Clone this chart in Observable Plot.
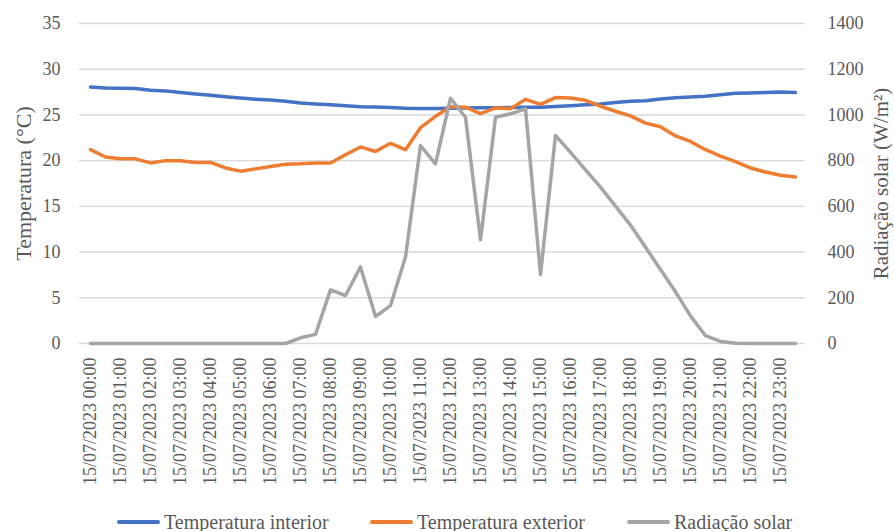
<!DOCTYPE html>
<html><head><meta charset="utf-8">
<script src="https://cdn.jsdelivr.net/npm/d3@7"></script>
<script src="https://cdn.jsdelivr.net/npm/@observablehq/plot@0.6"></script>
<style>
body{margin:0;background:#fff;width:894px;height:531px;position:relative;overflow:hidden;}
.leg{position:absolute;top:508px;height:28px;display:flex;align-items:center;font-family:'Liberation Serif',serif;font-size:20px;color:#595959;white-space:nowrap;}
.sw{display:inline-block;width:43px;height:4px;border-radius:2px;margin-right:4px;}
</style></head><body>
<div id="chart"></div>
<script>
const times = [
"15/07/2023 00:00","15/07/2023 00:30","15/07/2023 01:00","15/07/2023 01:30",
"15/07/2023 02:00","15/07/2023 02:30","15/07/2023 03:00","15/07/2023 03:30",
"15/07/2023 04:00","15/07/2023 04:30","15/07/2023 05:00","15/07/2023 05:30",
"15/07/2023 06:00","15/07/2023 06:30","15/07/2023 07:00","15/07/2023 07:30",
"15/07/2023 08:00","15/07/2023 08:30","15/07/2023 09:00","15/07/2023 09:30",
"15/07/2023 10:00","15/07/2023 10:30","15/07/2023 11:00","15/07/2023 11:30",
"15/07/2023 12:00","15/07/2023 12:30","15/07/2023 13:00","15/07/2023 13:30",
"15/07/2023 14:00","15/07/2023 14:30","15/07/2023 15:00","15/07/2023 15:30",
"15/07/2023 16:00","15/07/2023 16:30","15/07/2023 17:00","15/07/2023 17:30",
"15/07/2023 18:00","15/07/2023 18:30","15/07/2023 19:00","15/07/2023 19:30",
"15/07/2023 20:00","15/07/2023 20:30","15/07/2023 21:00","15/07/2023 21:30",
"15/07/2023 22:00","15/07/2023 22:30","15/07/2023 23:00","15/07/2023 23:30"];
const hourLabels = [
"15/07/2023 00:00","15/07/2023 01:00","15/07/2023 02:00","15/07/2023 03:00",
"15/07/2023 04:00","15/07/2023 05:00","15/07/2023 06:00","15/07/2023 07:00",
"15/07/2023 08:00","15/07/2023 09:00","15/07/2023 10:00","15/07/2023 11:00",
"15/07/2023 12:00","15/07/2023 13:00","15/07/2023 14:00","15/07/2023 15:00",
"15/07/2023 16:00","15/07/2023 17:00","15/07/2023 18:00","15/07/2023 19:00",
"15/07/2023 20:00","15/07/2023 21:00","15/07/2023 22:00","15/07/2023 23:00"];
const tempInterior = [28.05,27.95,27.92,27.88,27.7,27.63,27.45,27.3,27.15,27.0,26.85,26.72,
26.62,26.5,26.3,26.2,26.1,26.0,25.9,25.88,25.8,25.72,25.7,25.7,
25.72,25.75,25.78,25.78,25.8,25.85,25.85,25.92,26.0,26.1,26.2,26.35,
26.5,26.55,26.75,26.88,26.95,27.05,27.2,27.38,27.4,27.45,27.5,27.45];
const tempExterior = [21.2,20.4,20.2,20.2,19.75,20.0,20.0,19.8,19.8,19.2,18.85,19.1,
19.35,19.6,19.65,19.75,19.75,20.65,21.5,21.0,21.9,21.2,23.6,24.85,
25.9,25.85,25.15,25.78,25.67,26.7,26.15,26.9,26.85,26.6,25.95,25.4,
24.9,24.1,23.7,22.7,22.1,21.2,20.5,19.9,19.2,18.75,18.4,18.2];
const radiation = [0,0,0,0,0,0,0,0,0,0,0,0,
0,0,25,40,235,210,335,118,166,378,866,786,
1073,990,454,990,1005,1027,302,910,836,760,684,601,
518,421,324,226,121,34,9,1,0,0,0,0];
const tempTicks = [0,5,10,15,20,25,30,35];
const radTicks = [0,200,400,600,800,1000,1200,1400];
const k = radTicks[radTicks.length-1] / tempTicks[tempTicks.length-1];

const data = times.map((t,i)=>({t, tin: tempInterior[i], tout: tempExterior[i], rad: radiation[i]}));

const plot = Plot.plot({
  width: 894, height: 505,
  marginLeft: 79, marginRight: 89, marginTop: 23, marginBottom: 162,
  style: {fontFamily: "'Liberation Serif', serif", fontSize: "18px", color: "#595959", background: "#fff"},
  x: {type: "point", domain: times, padding: 0.5},
  y: {domain: [0,35]},
  marks: [
    Plot.gridY(tempTicks, {stroke: "#d9d9d9", strokeOpacity: 1, strokeWidth: 1.4}),
    Plot.axisY(tempTicks, {anchor: "left", tickSize: 0, tickPadding: 19, label: null}),
    Plot.axisY(tempTicks, {anchor: "right", tickSize: 0, tickPadding: 22, label: null, tickFormat: d => String(radTicks[tempTicks.indexOf(d)])}),
    Plot.axisX(hourLabels, {tickSize: 0, tickRotate: -90, tickPadding: 14, label: null}),
    Plot.line(data, {x: "t", y: "tin", stroke: "#4472c4", strokeWidth: 3.5}),
    Plot.line(data, {x: "t", y: "tout", stroke: "#ed7d31", strokeWidth: 3.5}),
    Plot.line(data, {x: "t", y: d => d.rad / k, stroke: "#a5a5a5", strokeWidth: 3.5}),
    Plot.text(["Temperatura (°C)"], {frameAnchor: "left", dx: -56, rotate: -90, textAnchor: "middle", lineAnchor: "middle", text: d => d, fontSize: 22, fill: "#595959"}),
    Plot.text(["Radiação solar (W/m²)"], {frameAnchor: "right", dx: 76, rotate: -90, textAnchor: "middle", lineAnchor: "middle", text: d => d, fontSize: 21, fill: "#595959"})
  ]
});
document.getElementById("chart").appendChild(plot);

const legendItems = [
  {name: "Temperatura interior", color: "#4472c4", left: 117},
  {name: "Temperatura exterior", color: "#ed7d31", left: 370},
  {name: "Radiação solar", color: "#a5a5a5", left: 627}
];
for (const it of legendItems) {
  const d = document.createElement("div");
  d.className = "leg";
  d.style.left = it.left + "px";
  d.innerHTML = `<span class="sw" style="background:${it.color}"></span><span>${it.name}</span>`;
  document.body.appendChild(d);
}
</script>
</body></html>
